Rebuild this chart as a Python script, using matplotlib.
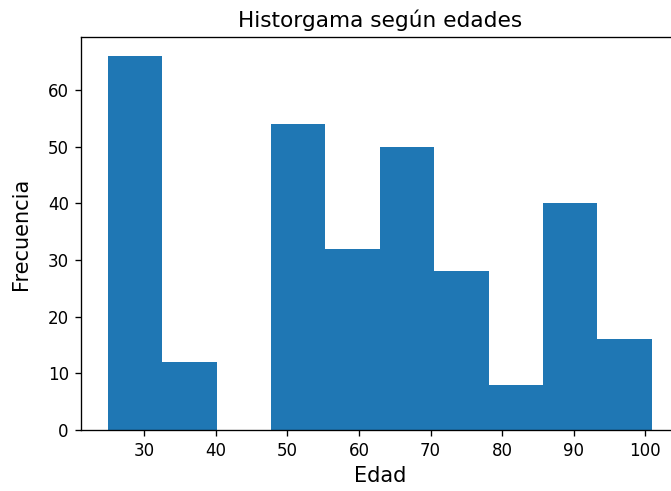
import numpy as np
import matplotlib.pyplot as plt

# histogram bins
edges = np.linspace(24.9, 100.9, 11)
counts = [66, 12, 0, 54, 32, 50, 28, 8, 40, 16]

fig = plt.figure(figsize=(671 / 120, 491 / 120), dpi=120)
# right spine falls just outside the picture, as in the reference crop
ax = fig.add_axes([0.120, 0.124, 0.892, 0.800])

ax.hist(edges[:-1], bins=edges, weights=counts, color='#1f77b4')
ax.set_xticks([30, 40, 50, 60, 70, 80, 90, 100])
ax.tick_params(labelsize=10)
ax.set_title('Historgama según edades', fontsize=13)
ax.set_xlabel('Edad', fontsize=12.5)
ax.set_ylabel('Frecuencia', fontsize=12.5, labelpad=10)

fig.savefig('out.png', dpi=120)
